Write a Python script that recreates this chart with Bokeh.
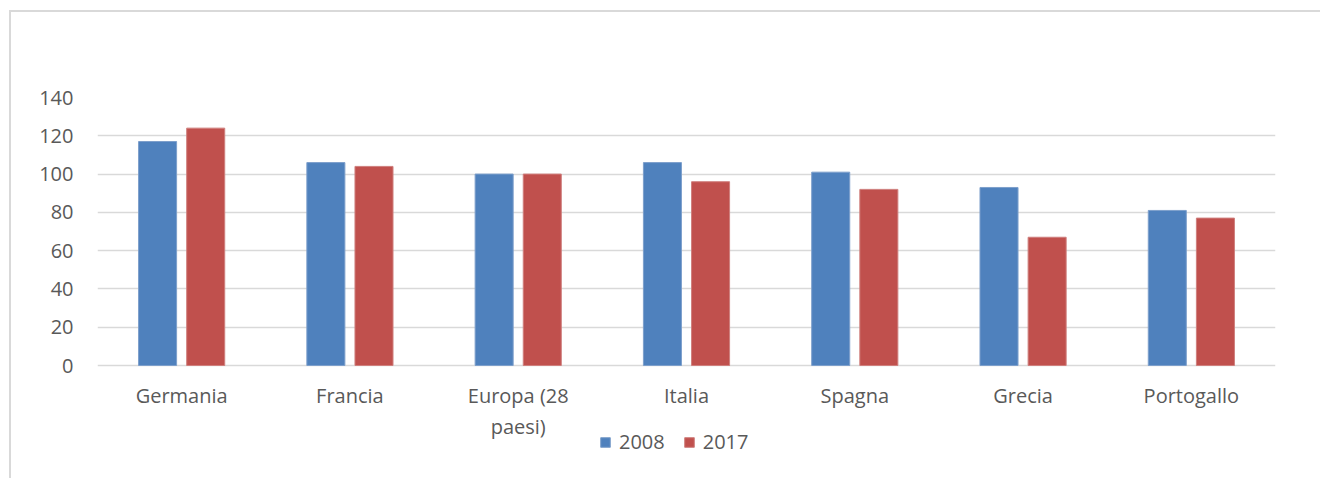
from bokeh.plotting import figure
from bokeh.models import ColumnDataSource, FactorRange, Range1d, Legend, LegendItem, FixedTicker
from bokeh.transform import dodge
from bokeh.embed import file_html
from bokeh.resources import INLINE

countries = ["Germania", "Francia", "Europa (28\npaesi)", "Italia", "Spagna", "Grecia", "Portogallo"]
v2008 = [117, 106, 100, 106, 101, 93, 81]
v2017 = [124, 104, 100, 96, 92, 67, 77]
y_ticks = [0, 20, 40, 60, 80, 100, 120, 140]
series_names = ["2008", "2017"]
colors = ["#4F81BD", "#C0504D"]

src = ColumnDataSource(dict(country=countries, v2008=v2008, v2017=v2017,
                            base=[0] * len(countries)))

TEXT = "#595959"
FONT = "Open Sans"
GRID = "#d9d9d9"

# frame: top at 140, extended below 0 to hold category labels and legend
p = figure(
    width=1320, height=478,
    x_range=FactorRange(*countries, range_padding=0),
    y_range=Range1d(-57.46, 140),
    x_axis_location=None,
    output_backend="svg", toolbar_location=None,
    min_border_left=97, min_border_right=45, min_border_top=97, min_border_bottom=3,
)
p.border_fill_color = None
p.background_fill_color = None
p.styles = {
    "background": (
        f"linear-gradient({GRID},{GRID}) 9px 10px / 2px 100% no-repeat, "
        f"linear-gradient({GRID},{GRID}) 9px 10px / 100% 2px no-repeat, white"
    )
}
p.outline_line_color = None

r1 = p.vbar(x=dodge("country", -0.143, range=p.x_range), top="v2008", bottom="base",
            width=0.226, source=src, fill_color=colors[0], line_color="#7d9fcb", line_width=1)
r2 = p.vbar(x=dodge("country", 0.143, range=p.x_range), top="v2017", bottom="base",
            width=0.226, source=src, fill_color=colors[1], line_color="#cf7f7d", line_width=1)

p.xgrid.grid_line_color = None
p.ygrid.grid_line_color = GRID
p.ygrid.grid_line_width = 1.5
p.yaxis.ticker = FixedTicker(ticks=y_ticks)

p.yaxis.axis_line_color = None
p.yaxis.major_tick_line_color = None
p.yaxis.minor_tick_line_color = None
p.yaxis.major_label_standoff = 18
p.yaxis.major_label_text_font = FONT
p.yaxis.major_label_text_font_size = "20px"
p.yaxis.major_label_text_color = TEXT

# category labels under the zero line
p.text(x="country", y="base", text="country", source=src,
       y_offset=16, text_align="center", text_baseline="top",
       text_font={"value": FONT}, text_font_size="20px", text_color=TEXT,
       text_line_height=1.15)

legend = Legend(
    items=[LegendItem(label=series_names[0], renderers=[r1]),
           LegendItem(label=series_names[1], renderers=[r2])],
    orientation="horizontal", location=(502, 20),
    border_line_color=None, background_fill_alpha=0,
    padding=0, margin=0, spacing=18,
    glyph_width=12, glyph_height=12, label_standoff=8,
    label_text_font=FONT, label_text_font_size="20px", label_text_color=TEXT,
)
p.add_layout(legend, "center")

open("out.html", "w").write(file_html(p, INLINE))
